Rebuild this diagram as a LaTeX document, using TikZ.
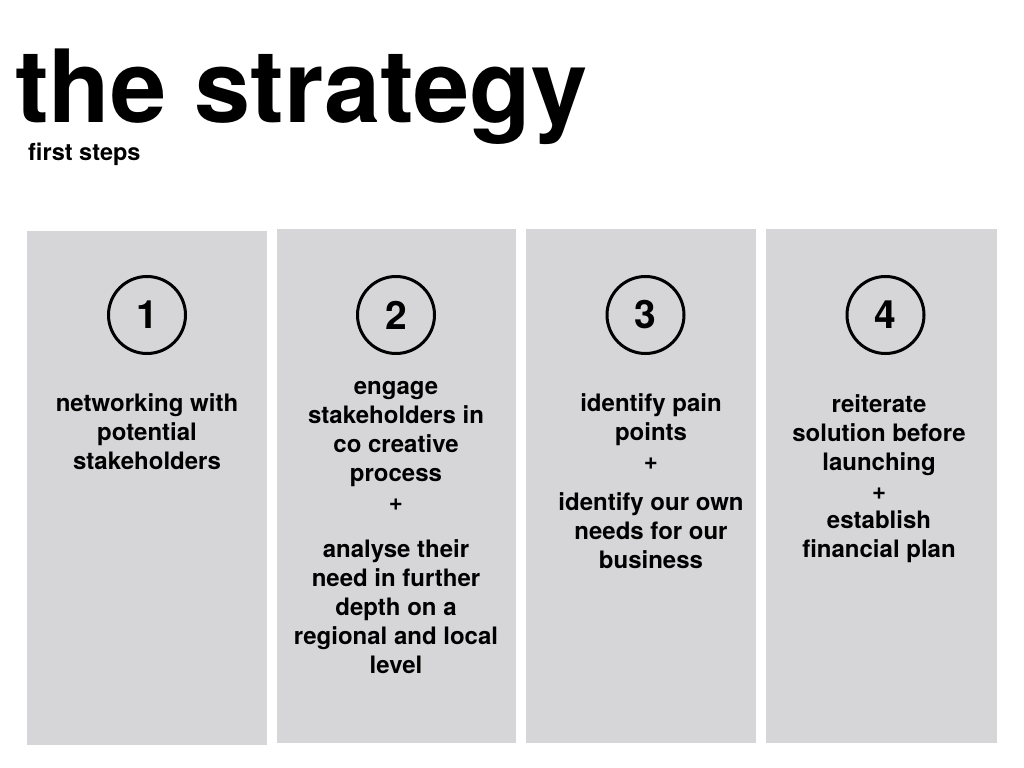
\documentclass[tikz,border=0pt]{standalone}
\usepackage{fontspec}
\setmainfont{TeX Gyre Heros}
\usetikzlibrary{positioning}
\definecolor{panelgray}{RGB}{214,213,215}

\begin{document}
\begin{tikzpicture}[
  x=1bp, y=-1bp,
  panel/.style = {fill=panelgray},
  stepcircle/.style = {
    circle, draw=black, line width=3bp, minimum size=77bp,
    inner sep=0pt, font=\fontsize{39bp}{39bp}\selectfont\bfseries
  },
  steptext/.style = {
    anchor=north, align=center, inner sep=0pt,
    font=\fontsize{24bp}{29bp}\selectfont\bfseries,
    execute at begin node=\strut
  }
]
  \useasboundingbox (0,0) rectangle (1024,768);

  % title block
  \node[anchor=base west, inner sep=0pt, font=\fontsize{101bp}{101bp}\selectfont\bfseries] (title) at (15,122) {the strategy};
  \node[anchor=base west, inner sep=0pt, font=\fontsize{23.5bp}{28bp}\selectfont\bfseries] (subtitle) at (28,160) {first steps};

  % panels
  \fill[panel] (27,231)  rectangle (267,745);
  \fill[panel] (277,229) rectangle (516,743);
  \fill[panel] (526,229) rectangle (756,743);
  \fill[panel] (766,229) rectangle (997,743);

  % step numbers
  \node[stepcircle] (one)   at (147,315)   {1};
  \node[stepcircle] (two)   at (396,315)   {2};
  \node[stepcircle] (three) at (645.5,315) {3};
  \node[stepcircle] (four)  at (885.5,315) {4};

  % step texts
  \node[steptext] (onetxt) at (147,393.7) {networking with\\potential\\stakeholders};
  \node[steptext] (twotxt) at (396,380.7) {engage\\stakeholders in\\co creative\\process\\+\\[18bp]analyse their\\need in further\\depth on a\\regional and local\\level};
  \node[steptext] (threetxt) at (651,393.7) {identify pain\\points\\+\\[12bp]identify our own\\needs for our\\business};
  \node[steptext] (fourtxt) at (879,394.7) {reiterate\\solution before\\launching\\+\\establish\\financial plan};
\end{tikzpicture}
\end{document}
